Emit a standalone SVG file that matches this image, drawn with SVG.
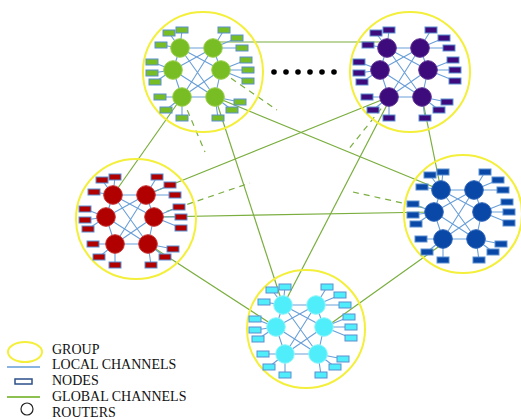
<svg xmlns="http://www.w3.org/2000/svg" width="521" height="419" viewBox="0 0 521 419">
<style>
.ring{fill:none;stroke:#f3ef3a;stroke-width:2}
.loc{fill:none;stroke:#6a9fd8;stroke-width:1.1}
.glob{fill:none;stroke:#7aae3e;stroke-width:1.2}
.dash{fill:none;stroke:#7aae3e;stroke-width:1.2;stroke-dasharray:6 5}
.nd{stroke:#5a8fd0;stroke-width:1}
.rt{stroke-width:1}
.green .nd,.green .rt{fill:#78bd24}.green .rt{stroke:#9ad04a}
.purple .nd,.purple .rt{fill:#3e0b7d}.purple .rt{stroke:#5a2d91}
.red .nd,.red .rt{fill:#b00000}.red .rt{stroke:#c83030}
.blue .nd,.blue .rt{fill:#0a48a8}.blue .rt{stroke:#2a62b8}
.cyan .nd,.cyan .rt{fill:#50eefa}.cyan .rt{stroke:#8ff6fb}
.lg{font-family:"Liberation Serif","Times New Roman",serif;font-size:14px;fill:#111}
</style>
<rect width="521" height="419" fill="#ffffff"/>
<g id="connectors">
<line class="glob" x1="213" y1="42" x2="387" y2="42"/>
<line class="glob" x1="215" y1="97" x2="441" y2="190"/>
<line class="glob" x1="182" y1="97" x2="113" y2="195"/>
<line class="glob" x1="215" y1="97" x2="283" y2="305"/>
<line class="glob" x1="389" y1="97" x2="146" y2="195"/>
<line class="glob" x1="390" y1="99" x2="285" y2="302"/>
<line class="glob" x1="422" y1="97" x2="441" y2="190"/>
<line class="glob" x1="154" y1="217" x2="434" y2="212"/>
<line class="glob" x1="148" y1="244" x2="276" y2="327"/>
<line class="glob" x1="441" y1="245" x2="326" y2="327"/>
<line class="dash" x1="222" y1="72" x2="277" y2="110"/>
<line class="dash" x1="183" y1="100" x2="205" y2="152"/>
<line class="dash" x1="388" y1="100" x2="348" y2="150"/>
<line class="dash" x1="156" y1="215" x2="250" y2="183"/>
<line class="dash" x1="434" y1="210" x2="353" y2="192"/>
</g>
<g id="dots" fill="#000">
<circle cx="274" cy="72" r="2.8"/><circle cx="286" cy="72" r="2.8"/><circle cx="298" cy="72" r="2.8"/><circle cx="310" cy="72" r="2.8"/><circle cx="322" cy="72" r="2.8"/><circle cx="334" cy="72" r="2.8"/>
</g>
<g id="group-green" class="green" transform="translate(180,48)">
<circle class="ring" cx="23" cy="24" r="60"/>
<path class="loc" d="M0 0H33M2 49H35M0 0L-7 22L2 49M33 0L41 22L35 49M0 0L35 49M33 0L2 49M0 0L41 22M33 0L-7 22M-7 22L35 49M41 22L2 49M0 0L-11 -15M0 0L2 -18M0 0L-19 -3M33 0L44 -18M33 0L57 -10M33 0L62 0M-7 22L-28 14M-7 22L-28 25M-7 22L-25 34M41 22L66 12M41 22L68 22M41 22L68 33M2 49L-20 49M2 49L-14 62M2 49L2 70M35 49L60 54M35 49L52 62M35 49L38 70"/>
<rect class="nd" x="-17" y="-18" width="12" height="6"/><rect class="nd" x="-4" y="-21" width="12" height="6"/><rect class="nd" x="-25" y="-6" width="12" height="6"/>
<rect class="nd" x="38" y="-21" width="12" height="6"/><rect class="nd" x="51" y="-13" width="12" height="6"/><rect class="nd" x="56" y="-3" width="12" height="6"/>
<rect class="nd" x="-34" y="11" width="12" height="6"/><rect class="nd" x="-34" y="22" width="12" height="6"/><rect class="nd" x="-31" y="31" width="12" height="6"/>
<rect class="nd" x="60" y="9" width="12" height="6"/><rect class="nd" x="62" y="19" width="12" height="6"/><rect class="nd" x="62" y="30" width="12" height="6"/>
<rect class="nd" x="-26" y="46" width="12" height="6"/><rect class="nd" x="-20" y="59" width="12" height="6"/><rect class="nd" x="-4" y="67" width="12" height="6"/>
<rect class="nd" x="54" y="51" width="12" height="6"/><rect class="nd" x="46" y="59" width="12" height="6"/><rect class="nd" x="32" y="67" width="12" height="6"/>
<circle class="rt" cx="0" cy="0" r="9.3"/><circle class="rt" cx="33" cy="0" r="9.3"/><circle class="rt" cx="-7" cy="22" r="9.3"/><circle class="rt" cx="41" cy="22" r="9.3"/><circle class="rt" cx="2" cy="49" r="9.3"/><circle class="rt" cx="35" cy="49" r="9.3"/>
</g>
<g id="group-purple" class="purple" transform="translate(387,48)">
<circle class="ring" cx="23" cy="24" r="60"/>
<path class="loc" d="M0 0H33M2 49H35M0 0L-7 22L2 49M33 0L41 22L35 49M0 0L35 49M33 0L2 49M0 0L41 22M33 0L-7 22M-7 22L35 49M41 22L2 49M0 0L-11 -15M0 0L2 -18M0 0L-19 -3M33 0L44 -18M33 0L57 -10M33 0L62 0M-7 22L-28 14M-7 22L-28 25M-7 22L-25 34M41 22L66 12M41 22L68 22M41 22L68 33M2 49L-20 49M2 49L-14 62M2 49L2 70M35 49L60 54M35 49L52 62M35 49L38 70"/>
<rect class="nd" x="-17" y="-18" width="12" height="6"/><rect class="nd" x="-4" y="-21" width="12" height="6"/><rect class="nd" x="-25" y="-6" width="12" height="6"/>
<rect class="nd" x="38" y="-21" width="12" height="6"/><rect class="nd" x="51" y="-13" width="12" height="6"/><rect class="nd" x="56" y="-3" width="12" height="6"/>
<rect class="nd" x="-34" y="11" width="12" height="6"/><rect class="nd" x="-34" y="22" width="12" height="6"/><rect class="nd" x="-31" y="31" width="12" height="6"/>
<rect class="nd" x="60" y="9" width="12" height="6"/><rect class="nd" x="62" y="19" width="12" height="6"/><rect class="nd" x="62" y="30" width="12" height="6"/>
<rect class="nd" x="-26" y="46" width="12" height="6"/><rect class="nd" x="-20" y="59" width="12" height="6"/><rect class="nd" x="-4" y="67" width="12" height="6"/>
<rect class="nd" x="54" y="51" width="12" height="6"/><rect class="nd" x="46" y="59" width="12" height="6"/><rect class="nd" x="32" y="67" width="12" height="6"/>
<circle class="rt" cx="0" cy="0" r="9.3"/><circle class="rt" cx="33" cy="0" r="9.3"/><circle class="rt" cx="-7" cy="22" r="9.3"/><circle class="rt" cx="41" cy="22" r="9.3"/><circle class="rt" cx="2" cy="49" r="9.3"/><circle class="rt" cx="35" cy="49" r="9.3"/>
</g>
<g id="group-red" class="red" transform="translate(113,195)">
<circle class="ring" cx="23" cy="24" r="60"/>
<path class="loc" d="M0 0H33M2 49H35M0 0L-7 22L2 49M33 0L41 22L35 49M0 0L35 49M33 0L2 49M0 0L41 22M33 0L-7 22M-7 22L35 49M41 22L2 49M0 0L-11 -15M0 0L2 -18M0 0L-19 -3M33 0L44 -18M33 0L57 -10M33 0L62 0M-7 22L-28 14M-7 22L-28 25M-7 22L-25 34M41 22L66 12M41 22L68 22M41 22L68 33M2 49L-20 49M2 49L-14 62M2 49L2 70M35 49L60 54M35 49L52 62M35 49L38 70"/>
<rect class="nd" x="-17" y="-18" width="12" height="6"/><rect class="nd" x="-4" y="-21" width="12" height="6"/><rect class="nd" x="-25" y="-6" width="12" height="6"/>
<rect class="nd" x="38" y="-21" width="12" height="6"/><rect class="nd" x="51" y="-13" width="12" height="6"/><rect class="nd" x="56" y="-3" width="12" height="6"/>
<rect class="nd" x="-34" y="11" width="12" height="6"/><rect class="nd" x="-34" y="22" width="12" height="6"/><rect class="nd" x="-31" y="31" width="12" height="6"/>
<rect class="nd" x="60" y="9" width="12" height="6"/><rect class="nd" x="62" y="19" width="12" height="6"/><rect class="nd" x="62" y="30" width="12" height="6"/>
<rect class="nd" x="-26" y="46" width="12" height="6"/><rect class="nd" x="-20" y="59" width="12" height="6"/><rect class="nd" x="-4" y="67" width="12" height="6"/>
<rect class="nd" x="54" y="51" width="12" height="6"/><rect class="nd" x="46" y="59" width="12" height="6"/><rect class="nd" x="32" y="67" width="12" height="6"/>
<circle class="rt" cx="0" cy="0" r="9.3"/><circle class="rt" cx="33" cy="0" r="9.3"/><circle class="rt" cx="-7" cy="22" r="9.3"/><circle class="rt" cx="41" cy="22" r="9.3"/><circle class="rt" cx="2" cy="49" r="9.3"/><circle class="rt" cx="35" cy="49" r="9.3"/>
</g>
<g id="group-blue" class="blue" transform="translate(441,190)">
<circle class="ring" cx="22" cy="24" r="59"/>
<path class="loc" d="M0 0H33M2 49H35M0 0L-7 22L2 49M33 0L41 22L35 49M0 0L35 49M33 0L2 49M0 0L41 22M33 0L-7 22M-7 22L35 49M41 22L2 49M0 0L-11 -15M0 0L2 -18M0 0L-19 -3M33 0L44 -18M33 0L57 -10M33 0L62 0M-7 22L-28 14M-7 22L-28 25M-7 22L-25 34M41 22L66 12M41 22L68 22M41 22L68 33M2 49L-20 49M2 49L-14 62M2 49L2 70M35 49L60 54M35 49L52 62M35 49L38 70"/>
<rect class="nd" x="-17" y="-18" width="12" height="6"/><rect class="nd" x="-4" y="-21" width="12" height="6"/><rect class="nd" x="-25" y="-6" width="12" height="6"/>
<rect class="nd" x="38" y="-21" width="12" height="6"/><rect class="nd" x="51" y="-13" width="12" height="6"/><rect class="nd" x="56" y="-3" width="12" height="6"/>
<rect class="nd" x="-34" y="11" width="12" height="6"/><rect class="nd" x="-34" y="22" width="12" height="6"/><rect class="nd" x="-31" y="31" width="12" height="6"/>
<rect class="nd" x="60" y="9" width="12" height="6"/><rect class="nd" x="62" y="19" width="12" height="6"/><rect class="nd" x="62" y="30" width="12" height="6"/>
<rect class="nd" x="-26" y="46" width="12" height="6"/><rect class="nd" x="-20" y="59" width="12" height="6"/><rect class="nd" x="-4" y="67" width="12" height="6"/>
<rect class="nd" x="54" y="51" width="12" height="6"/><rect class="nd" x="46" y="59" width="12" height="6"/><rect class="nd" x="32" y="67" width="12" height="6"/>
<circle class="rt" cx="0" cy="0" r="9.3"/><circle class="rt" cx="33" cy="0" r="9.3"/><circle class="rt" cx="-7" cy="22" r="9.3"/><circle class="rt" cx="41" cy="22" r="9.3"/><circle class="rt" cx="2" cy="49" r="9.3"/><circle class="rt" cx="35" cy="49" r="9.3"/>
</g>
<g id="group-cyan" class="cyan" transform="translate(283,305)">
<circle class="ring" cx="23" cy="24" r="59"/>
<path class="loc" d="M0 0H33M2 49H35M0 0L-7 22L2 49M33 0L41 22L35 49M0 0L35 49M33 0L2 49M0 0L41 22M33 0L-7 22M-7 22L35 49M41 22L2 49M0 0L-11 -15M0 0L2 -18M0 0L-19 -3M33 0L44 -18M33 0L57 -10M33 0L62 0M-7 22L-28 14M-7 22L-28 25M-7 22L-25 34M41 22L66 12M41 22L68 22M41 22L68 33M2 49L-20 49M2 49L-14 62M2 49L2 70M35 49L60 54M35 49L52 62M35 49L38 70"/>
<rect class="nd" x="-17" y="-18" width="12" height="6"/><rect class="nd" x="-4" y="-21" width="12" height="6"/><rect class="nd" x="-25" y="-6" width="12" height="6"/>
<rect class="nd" x="38" y="-21" width="12" height="6"/><rect class="nd" x="51" y="-13" width="12" height="6"/><rect class="nd" x="56" y="-3" width="12" height="6"/>
<rect class="nd" x="-34" y="11" width="12" height="6"/><rect class="nd" x="-34" y="22" width="12" height="6"/><rect class="nd" x="-31" y="31" width="12" height="6"/>
<rect class="nd" x="60" y="9" width="12" height="6"/><rect class="nd" x="62" y="19" width="12" height="6"/><rect class="nd" x="62" y="30" width="12" height="6"/>
<rect class="nd" x="-26" y="46" width="12" height="6"/><rect class="nd" x="-20" y="59" width="12" height="6"/><rect class="nd" x="-4" y="67" width="12" height="6"/>
<rect class="nd" x="54" y="51" width="12" height="6"/><rect class="nd" x="46" y="59" width="12" height="6"/><rect class="nd" x="32" y="67" width="12" height="6"/>
<circle class="rt" cx="0" cy="0" r="9.3"/><circle class="rt" cx="33" cy="0" r="9.3"/><circle class="rt" cx="-7" cy="22" r="9.3"/><circle class="rt" cx="41" cy="22" r="9.3"/><circle class="rt" cx="2" cy="49" r="9.3"/><circle class="rt" cx="35" cy="49" r="9.3"/>
</g>
<g id="legend">
<ellipse cx="25" cy="352" rx="17" ry="10" fill="none" stroke="#f3ef3a" stroke-width="2"/>
<text class="lg" x="52" y="354">GROUP</text>
<line x1="7" y1="367" x2="40" y2="367" stroke="#8ab4e0" stroke-width="2"/>
<text class="lg" x="52" y="369">LOCAL CHANNELS</text>
<rect x="15" y="379" width="17" height="5" fill="#fff" stroke="#2c4f8a" stroke-width="1.5"/>
<text class="lg" x="52" y="385">NODES</text>
<line x1="7" y1="397" x2="40" y2="397" stroke="#8cc152" stroke-width="2"/>
<text class="lg" x="52" y="401">GLOBAL CHANNELS</text>
<circle cx="27" cy="409" r="6" fill="none" stroke="#222" stroke-width="1.2"/>
<text class="lg" x="52" y="417">ROUTERS</text>
</g>
</svg>
